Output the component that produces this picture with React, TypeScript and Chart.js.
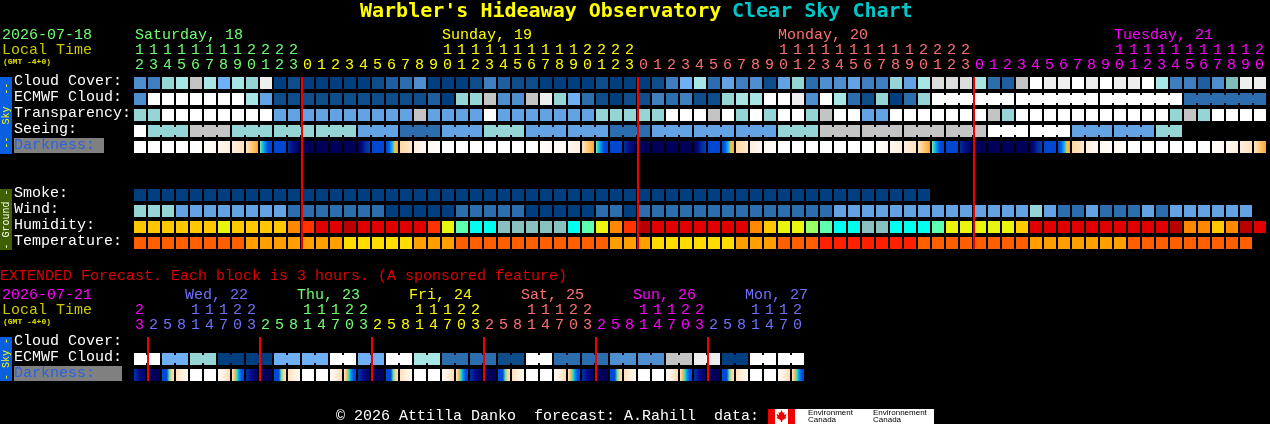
import React, { useEffect, useRef } from "react";
import { Chart, registerables } from "chart.js";

Chart.register(...registerables);

// ---------- data ----------
const skyColors = ["#003f7f","#0f4c8a","#1f5fa0","#2c6ead","#3f7fbf","#4f8fcf","#63a3e3","#6fb0f5","#7fbcbc","#95d5d5","#a8e6e6","#c4c4c4","#dcdcdc","#eeeeee","#ffffff"];
const humidityColors = ["#b80000","#e00000","#ff3300","#ff8800","#ffc800","#e9f50f","#9aff66","#5fffb0","#00ffee","#88c0c0"];
const temperatureColors = ["#ff2000","#ff5f00","#ffa000","#ffdd00"];

const cloudCover = [5,4,9,10,11,10,7,10,9,13, 0,1,0,0,0,0,0,1,2,3, 5,0,0,0,1,4,2,1,1,0, 0,0,0,1,0,0,0,1,4,7, 10,3,6,4,5,1,6,9,3,5, 5,6,4,4,9,6,10,12,12,12, 10,3,2,11,14,13,13,14,13,14, 13,13,14,10,4,4,2,5,8,13, 13];
const ecmwfCloud = [5,14,14,14,14,14,14,14,10,6, 1,1,1,1,1,1,1,1,1,1, 1,2,0,9,9,11,5,5,11,13, 9,7,3,1,0,1,1,4,3,4, 1,1,9,10,10,14,14,13,5,14, 10,3,1,9,0,3,9,14,14,14, 14,14,14,14,14,14,14,14,14,14, 14,14,14,14,14,3,3,3,3,3, 3];
const ecmwfJoinedRuns = [[57,6],[63,6],[69,6],[75,6]];
const transparency = [9,9,14,14,14,14,14,14,14,14, 6,6,6,6,6,6,6,6,6,6, 11,6,6,6,6,14,6,6,6,6, 6,6,6,9,9,9,9,9,14,14, 14,11,14,9,14,9,14,14,9,11, 14,14,6,6,14,14,14,14,14,14, 14,11,9,14,14,14,14,14,14,14, 14,14,14,14,9,11,9,14,14,14, 14];
const seeingLevels = [14,9,11,9,9,9,6,3,6,9,6,6,3,6,6,6,9,11,11,11,11,14,14,6,6,9];
const seeingHours = [1,3,3,3,3,3,3,3,3,3,3,3,3,3,3,3,3,3,3,3,3,3,3,3,3,2];
const darknessStops: Record<string,string[]> = {
  W:["#ffffff"], a:["#fffdf9","#fff8f0"], b:["#fff8f0","#ffeedd"], c:["#ffeedd","#ffe0c0"],
  d:["#ffe4c0","#ffc878","#ffa428"], e:["#90e0a0","#10c8e8","#0090f0","#0050d8","#0048d0","#0048d0"],
  f:["#0048d0"], g:["#0030a0","#000a80","#000060"], n:["#00005a"], h:["#000060","#000a80","#0030a0","#0040c0"],
  j:["#0048d0","#0060e0","#00b0ff","#ffc040","#ffa830"], k:["#ffd8a0","#ffe8cc"], B:["#ffeedd","#fff8f0"], A:["#fff8f0","#fffdf9"],
  P:["#0048d8","#0048d8","#0048d8","#60e0a0","#ffd090","#ffe0b8"], Q:["#ffe0b8","#fff0e0","#fff8f0"], R:["#fff8f0","#fff0e0","#ffd8a8"],
  S:["#ffe8c8","#ffc060","#30e0c0","#0090f0","#0050e0","#0048d8"], T:["#0030b0","#000a80","#000060"],
};
const darkness = ["W","W","W","W","W","a","b","c","d","e", "f","g","n","n","n","n","h","f","j","k", "B","A","W","W","W","W","W","W","W","a", "a","b","d","e","f","g","n","n","n","n", "h","f","j","k","B","A","W","W","W","W", "W","W","W","a","b","c","d","e","f","g", "n","n","n","n","h","f","j","k","B","A", "A","W","W","W","W","W","W","a","b","c", "d"];
const smoke = [0,0,0,0,0,0,0,0,0,0, 0,0,0,0,0,0,0,0,0,0, 0,0,0,0,0,0,0,0,0,0, 0,0,0,0,0,0,0,0,0,0, 0,0,0,0,0,0,0,0,0,0, 0,0,0,0,0,0,0];
const wind = [9,9,9,6,6,6,6,6,6,6, 6,3,3,3,3,3,3,3,0,0, 0,0,0,3,3,3,3,3,0,0, 0,0,0,3,3,0,3,3,3,3, 3,3,3,3,3,3,3,3,3,3, 6,6,6,6,6,6,6,6,6,6, 6,6,6,6,9,6,3,3,6,3, 3,3,6,3,6,6,6,6,6,6];
const humidity = [4,4,4,4,4,4,5,4,4,4, 4,3,2,1,1,0,1,1,1,1, 1,2,5,7,8,8,9,9,9,9, 9,8,7,5,3,2,0,1,1,1, 1,1,1,1,3,4,5,5,6,7, 8,8,9,9,8,8,8,7,5,5, 5,5,5,4,1,1,1,1,1,1, 1,1,1,1,0,3,3,4,3,0, 1];
const temperature = [1,1,1,1,1,1,1,1,2,2, 2,2,2,2,2,3,3,3,3,3, 2,2,2,1,1,1,1,1,1,1, 1,1,1,1,2,2,2,3,3,3, 3,3,3,2,2,2,1,1,1,0, 0,0,0,0,0,0,1,1,1,1, 1,1,1,1,2,2,2,2,2,2, 2,1,1,1,1,1,1,1,1,1];

const mainHours = [12,13,14,15,16,17,18,19,20,21,22,23, 0,1,2,3,4,5,6,7,8,9,10,11,12,13,14,15,16,17,18,19,20,21,22,23, 0,1,2,3,4,5,6,7,8,9,10,11,12,13,14,15,16,17,18,19,20,21,22,23, 0,1,2,3,4,5,6,7,8,9,10,11,12,13,14,15,16,17,18,19,20];
const mainDayOfHour = [0,0,0,0,0,0,0,0,0,0,0,0, 1,1,1,1,1,1,1,1,1,1,1,1,1,1,1,1,1,1,1,1,1,1,1,1, 2,2,2,2,2,2,2,2,2,2,2,2,2,2,2,2,2,2,2,2,2,2,2,2, 3,3,3,3,3,3,3,3,3,3,3,3,3,3,3,3,3,3,3,3,3];
const mainDayColors = ["#70ff70","#ffff00","#ff7070","#ff00ff"];
const mainDayLabels = ["Saturday, 18","Sunday, 19","Monday, 20","Tuesday, 21"];
const mainDayCols = [0.07,22,46,70];
const mainMidnights = [12,36,60];

const extEcmwf = [14,7,9,0,0,7,7,14,7,14,10,3,3,1,14,3,3,5,5,11,13,0,14,14];
const extDarkness = ["T","n","P","Q","W","W","R","S","T","n","P","Q","W","W","R","S","T","n","P","Q","W","W","R","S","T","n","P","Q","W","W","R","S","T","n","P","Q","W","W","R","S","T","n","P","Q","W","W","R","S"];
const extHours = [23, 2,5,8,11,14,17,20,23, 2,5,8,11,14,17,20,23, 2,5,8,11,14,17,20,23, 2,5,8,11,14,17,20,23, 2,5,8,11,14,17,20,23, 2,5,8,11,14,17,20];
const extDayOfHour = [0, 1,1,1,1,1,1,1,1, 2,2,2,2,2,2,2,2, 3,3,3,3,3,3,3,3, 4,4,4,4,4,4,4,4, 5,5,5,5,5,5,5,5, 6,6,6,6,6,6,6];
const extDayColors = ["#ff00ff","#7070ff","#70ff70","#ffff00","#ff7070","#ff00ff","#7070ff"];
const extDayLabels = ["Wed, 22","Thu, 23","Fri, 24","Sat, 25","Sun, 26","Mon, 27"];
const extDayCols = [3.64,11.64,19.64,27.64,35.64,43.64];
const extMidnights = [1,9,17,25,33,41];

const mainRowLabels = ["Cloud Cover:","ECMWF Cloud:","Transparency:","Seeing:","Darkness:","Smoke:","Wind:","Humidity:","Temperature:"];
const mainRowIndex = [0,1,2,3,4,7,8,9,10];
const extRowLabels = ["Cloud Cover:","ECMWF Cloud:","Darkness:"];
const extRowIndex = [0,1,2];

// ---------- geometry ----------
const PITCH_X = 14, PITCH_Y = 16, LEFT = 134, WIDTH = 1270;
const CELL_X = 12 / PITCH_X, CELL_Y = 12 / PITCH_Y;
const MONO = '"Liberation Mono", monospace';
const TEXT_FONT = { family: '"Liberation Mono", monospace', size: 15, lineHeight: 1 };

const expand = (levels: number[], lens: number[]) => levels.flatMap((v, i) => Array(lens[i]).fill(v));
const seeing = expand(seeingLevels, seeingHours);

const cells = (values: number[], row: number, palette: string[]) => ({
  data: values.map((_, i) => ({ x: i + CELL_X / 2, y: [row, row + CELL_Y] })),
  backgroundColor: values.map((v) => palette[v]),
  barThickness: 12,
});
const darkCells = (codes: string[], row: number) => ({
  data: codes.map((_, i) => ({ x: i + CELL_X / 2, y: [row, row + CELL_Y] })),
  barThickness: 12,
  backgroundColor: (c: any) => {
    if (c.dataIndex === undefined) return "#000";
    const stops = darknessStops[codes[c.dataIndex]];
    if (stops.length === 1) return stops[0];
    const l = c.chart.scales.x.getPixelForValue(c.dataIndex);
    if (!Number.isFinite(l)) return stops[0];
    const g = c.chart.ctx.createLinearGradient(l, 0, l + 12, 0);
    stops.forEach((s: string, i: number) => g.addColorStop(i / (stops.length - 1), s));
    return g;
  },
});
// necks across the gap between cells that share one forecast block
const necks = (values: number[], row: number, palette: string[], runs: number[][]) => {
  const pts: any[] = [], cols: string[] = [];
  runs.forEach(([start, len]) => {
    for (let i = start; i < start + len - 1; i++) {
      pts.push({ x: i + 13 / PITCH_X, y: [row + 2 / PITCH_Y, row + 10 / PITCH_Y] });
      cols.push(palette[values[i]]);
    }
  });
  return { data: pts, backgroundColor: cols, barThickness: 2 };
};
const midnightLines = (cols: number[], from: number, to: number) => ({
  data: cols.map((c) => ({ x: c, y: [from, to] })),
  backgroundColor: "#f00000",
  barThickness: 2,
  order: -1,
});
const runsFromHours = (lens: number[]) => {
  let at = 0;
  return lens.map((l) => { const r = [at, l]; at += l; return r; });
};

type Txt = [string, number, number, string, string?];

const drawText = (ctx: any, items: Txt[]) => {
  ctx.textBaseline = "middle";
  ctx.textAlign = "left";
  items.forEach(([t, x, y, color, font]) => {
    ctx.font = font || `15px ${MONO}`;
    ctx.fillStyle = color;
    ctx.fillText(t, x, y);
  });
};
const band = (ctx: any, top: number, bottom: number, fill: string, text: string, color: string) => {
  ctx.fillStyle = fill;
  ctx.fillRect(0, top, 12, bottom - top);
  ctx.save();
  ctx.translate(6, (top + bottom) / 2);
  ctx.rotate(-Math.PI / 2);
  ctx.font = `10px ${MONO}`;
  ctx.fillStyle = color;
  ctx.textAlign = "center";
  ctx.textBaseline = "middle";
  ctx.fillText(text, 0, 0);
  ctx.restore();
};

const noAxisPadding = (a: any) => {
  a.paddingTop = a.paddingBottom = a.paddingLeft = a.paddingRight = 0;
};

const baseOptions = (opts: {
  top: number; bottomValue: number; hours: number[]; dayOf: number[]; dayColors: string[];
  rows: number[]; rowLabels: string[];
}) => ({
  responsive: false,
  maintainAspectRatio: false,
  animation: false as const,
  devicePixelRatio: 1,
  events: [],
  layout: { padding: { top: opts.top, left: 14, right: 0, bottom: 0 } },
  datasets: { bar: { grouped: false, inflateAmount: 0, borderWidth: 0 } },
  plugins: { legend: { display: false }, tooltip: { enabled: false }, title: { display: false } },
  scales: {
    x: {
      type: "linear", position: "top", offset: false, min: 0, max: (WIDTH - LEFT) / PITCH_X,
      grid: { display: false, drawTicks: false, tickLength: 0 }, border: { display: false },
      afterBuildTicks: (a: any) => { a.ticks = opts.hours.map((_, i) => ({ value: i + 0.4 })); },
      afterFit: (a: any) => { a.height = 30; noAxisPadding(a); },
      ticks: {
        autoSkip: false, maxRotation: 0, minRotation: 0, padding: 0, font: TEXT_FONT,
        color: (c: any) => opts.dayColors[opts.dayOf[c.index]],
        callback: (_: any, i: number) => {
          const h = opts.hours[i];
          return [h >= 10 ? String(Math.floor(h / 10)) : "", String(h % 10)];
        },
      },
    },
    y: {
      type: "linear", reverse: true, min: -4 / PITCH_Y, max: opts.bottomValue,
      grid: { display: false, drawTicks: false, tickLength: 0 }, border: { display: false },
      afterBuildTicks: (a: any) => { a.ticks = opts.rows.map((r) => ({ value: r + 0.27 })); },
      afterFit: (a: any) => { a.width = LEFT - 14; noAxisPadding(a); },
      ticks: {
        autoSkip: false, padding: 0, crossAlign: "far", font: TEXT_FONT,
        color: (c: any) => (opts.rowLabels[c.index] === "Darkness:" ? "#2a62e0" : "#ffffff"),
        callback: (_: any, i: number) => opts.rowLabels[i],
      },
    },
  },
});

export default function App() {
  const mainRef = useRef<HTMLCanvasElement>(null);
  const extRef = useRef<HTMLCanvasElement>(null);

  useEffect(() => {
    document.body.style.margin = "0";
    document.body.style.background = "#000";

    const mainChart = new Chart(mainRef.current as any, {
      type: "bar",
      data: {
        datasets: [
          midnightLines(mainMidnights, 0, 10 + CELL_Y),
          cells(cloudCover, 0, skyColors),
          cells(ecmwfCloud, 1, skyColors),
          necks(ecmwfCloud, 1, skyColors, ecmwfJoinedRuns),
          cells(transparency, 2, skyColors),
          cells(seeing, 3, skyColors),
          necks(seeing, 3, skyColors, runsFromHours(seeingHours)),
          darkCells(darkness, 4),
          cells(smoke, 7, skyColors),
          cells(wind, 8, skyColors),
          cells(humidity, 9, humidityColors),
          cells(temperature, 10, temperatureColors),
        ] as any,
      },
      options: baseOptions({
        top: 43, bottomValue: (265 - 77) / PITCH_Y, hours: mainHours, dayOf: mainDayOfHour, dayColors: mainDayColors,
        rows: mainRowIndex, rowLabels: mainRowLabels,
      }) as any,
      plugins: [{
        id: "mainDecor",
        beforeDraw(chart: any) {
          const c = chart.ctx;
          c.fillStyle = "#000";
          c.fillRect(0, 0, chart.width, chart.height);
          band(c, 77, 154, "#0a5ee0", "--  Sky  --", "#ffff00");
          band(c, 189, 250, "#406000", "- Ground -", "#ffffff");
          c.fillStyle = "#808080";
          c.fillRect(14, 138, 90, 15);
        },
        afterDraw(chart: any) {
          const c = chart.ctx;
          const x = chart.scales.x;
          drawText(c, [
            ["Warbler's Hideaway Observatory", 360, 12, "#ffff00", `bold 20px "DejaVu Sans Mono", monospace`],
            ["Clear Sky Chart", 732, 12, "#00c8c8", `bold 20px "DejaVu Sans Mono", monospace`],
            ["2026-07-18", 2, 35, "#70ff70"],
            ["Local Time", 2, 50, "#c8c800"],
            ["(GMT -4+0)", 3, 62, "#e0e000", `bold 8px ${MONO}`],
            ...mainDayLabels.map((t, i): Txt => [t, x.getPixelForValue(mainDayCols[i]), 35, mainDayColors[i]]),
          ]);
        },
      }],
    });

    const extChart = new Chart(extRef.current as any, {
      type: "bar",
      data: {
        datasets: [
          midnightLines(extMidnights, 0, 2 + CELL_Y),
          cells(extEcmwf.flatMap((v) => [v, v]), 1, skyColors),
          necks(extEcmwf.flatMap((v) => [v, v]), 1, skyColors, runsFromHours(extEcmwf.map(() => 2))),
          darkCells(extDarkness, 2),
        ] as any,
      },
      options: baseOptions({
        top: 38, bottomValue: (424 - 337) / PITCH_Y, hours: extHours, dayOf: extDayOfHour, dayColors: extDayColors,
        rows: extRowIndex, rowLabels: extRowLabels,
      }) as any,
      plugins: [{
        id: "extDecor",
        beforeDraw(chart: any) {
          const c = chart.ctx;
          c.fillStyle = "#000";
          c.fillRect(0, 0, chart.width, chart.height);
          band(c, 72, 116, "#0a5ee0", "- Sky -", "#ffff00");
          c.fillStyle = "#808080";
          c.fillRect(14, 101, 108, 15);
        },
        afterDraw(chart: any) {
          const c = chart.ctx;
          const x = chart.scales.x;
          drawText(c, [
            ["EXTENDED Forecast. Each block is 3 hours. (A sponsored feature)", 0, 11, "#e00000"],
            ["2026-07-21", 2, 30, "#ff00ff"],
            ["Local Time", 2, 45, "#c8c800"],
            ["(GMT -4+0)", 3, 57, "#e0e000", `bold 8px ${MONO}`],
            ...extDayLabels.map((t, i): Txt => [t, x.getPixelForValue(extDayCols[i]), 30, extDayColors[i + 1]]),
            ["\u00a9 2026 Attilla Danko  forecast: A.Rahill  data:", 336, 151, "#ffffff"],
          ]);
          // Canadian flag and agency mark of the footer
          const top = 144;
          c.fillStyle = "#ffffff";
          c.fillRect(768, top, 166, 15);
          c.fillStyle = "#ee0000";
          c.fillRect(768, top, 7, 15);
          c.fillRect(788, top, 7, 15);
          c.beginPath();
          const lx = 781.5, ly = top + 7;
          [[0,-6],[1.5,-3],[3,-4],[2.5,-1],[5,-2],[4,1],[5,2],[1,4],[0.5,6],[-0.5,6],[-1,4],[-5,2],[-4,1],[-5,-2],[-2.5,-1],[-3,-4],[-1.5,-3]]
            .forEach(([dx, dy], i) => (i ? c.lineTo(lx + dx, ly + dy) : c.moveTo(lx + dx, ly + dy)));
          c.closePath();
          c.fill();
          drawText(c, [
            ["Environment", 808, top + 4, "#000000", `8px "Liberation Sans", sans-serif`],
            ["Canada", 808, top + 11, "#000000", `8px "Liberation Sans", sans-serif`],
            ["Environnement", 873, top + 4, "#000000", `8px "Liberation Sans", sans-serif`],
            ["Canada", 873, top + 11, "#000000", `8px "Liberation Sans", sans-serif`],
          ]);
        },
      }],
    });

    return () => {
      mainChart.destroy();
      extChart.destroy();
    };
  }, []);

  return (
    <div style={{ position: "absolute", left: 0, top: 0, width: 1270, height: 424, background: "#000", overflow: "hidden" }}>
      <canvas ref={mainRef} width={1270} height={265} style={{ position: "absolute", left: 0, top: 0 }} />
      <canvas ref={extRef} width={1270} height={159} style={{ position: "absolute", left: 0, top: 265 }} />
    </div>
  );
}
